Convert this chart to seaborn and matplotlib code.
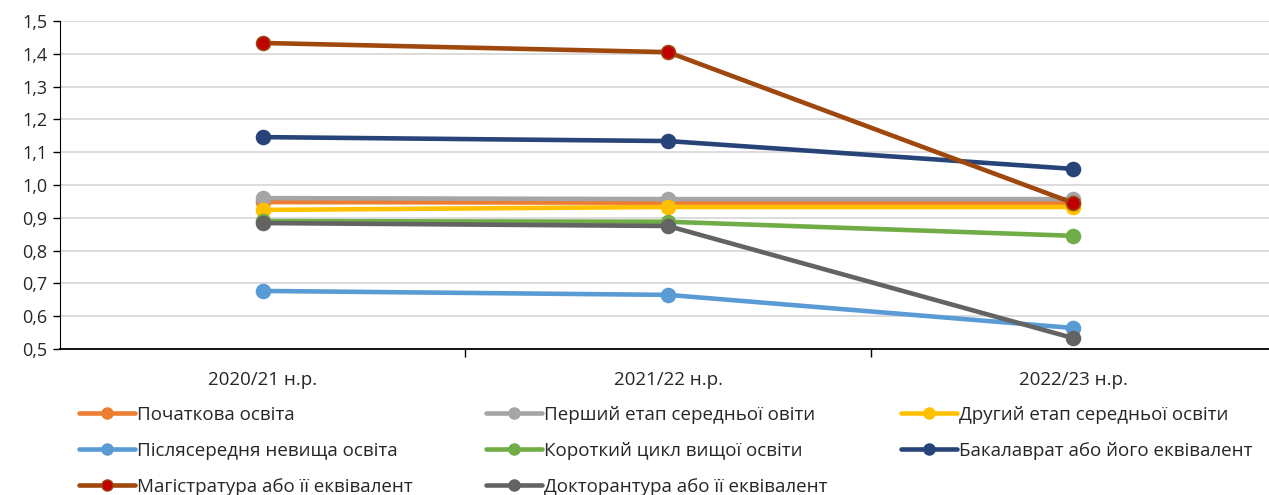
import matplotlib
matplotlib.use('Agg')
import matplotlib.pyplot as plt
import seaborn as sns
import pandas as pd
from matplotlib.ticker import FuncFormatter, FixedLocator
from matplotlib.lines import Line2D

# дані
roky = ['2020/21 н.р.', '2021/22 н.р.', '2022/23 н.р.']
seriyi = ['Початкова освіта', 'Перший етап середньої овіти', 'Другий етап середньої освіти',
          'Післясередня невища освіта', 'Короткий цикл вищої освіти', 'Бакалаврат або його еквівалент',
          'Магістратура або її еквівалент', 'Докторантура або її еквівалент']
pochatkova = [0.948, 0.946, 0.945]
pershyi = [0.960, 0.957, 0.957]
druhyi = [0.924, 0.933, 0.933]
pislyaseredna = [0.677, 0.665, 0.564]
korotkyi = [0.890, 0.888, 0.845]
bakalavr = [1.146, 1.134, 1.049]
mahistr = [1.433, 1.405, 0.945]
doktor = [0.884, 0.875, 0.533]
kolory = ['#ED7D31', '#A5A5A5', '#FFC000', '#5B9BD5', '#70AD47', '#264478', '#9E480E', '#636363']

znach = [pochatkova, pershyi, druhyi, pislyaseredna, korotkyi, bakalavr, mahistr, doktor]
df = pd.DataFrame({'rik': roky * len(seriyi),
                   'seriya': [s for s in seriyi for _ in roky],
                   'znach': [v for vals in znach for v in vals]})

sns.set_style('white')
plt.rcParams['font.family'] = ['Open Sans', 'DejaVu Sans']

fig = plt.figure(figsize=(12.69, 4.95), dpi=100)
ax = fig.add_axes([60 / 1269, 146 / 495, 1212 / 1269, 328 / 495])

handles = []
for s, c in zip(seriyi, kolory):
    d = df[df['seriya'] == s]
    face = '#C00000' if s.startswith('Магістратура') else c
    sns.lineplot(data=d, x='rik', y='znach', ax=ax, color=c, linewidth=3.3, marker='o',
                 markersize=10, markerfacecolor=face, markeredgecolor=c, markeredgewidth=1.2,
                 sort=False, legend=False)
    handles.append(Line2D([], [], color=c, linewidth=3.3, marker='o', markersize=8,
                          markerfacecolor=face, markeredgecolor=c))

ax.set_ylim(0.5, 1.5)
ax.set_xlim(-0.5, 2.49)
ax.set_yticks([0.5 + 0.1 * i for i in range(11)])
ax.yaxis.set_major_formatter(FuncFormatter(lambda v, p: f'{v:.1f}'.replace('.', ',')))
ax.yaxis.grid(True, color='#D9D9D9', linewidth=1.3)
ax.set_xlabel('')
ax.set_ylabel('')
ax.tick_params(axis='y', labelsize=13, length=5, width=1, color='black', direction='out', left=True, pad=4)
ax.tick_params(axis='x', labelsize=13.5, length=0, pad=16)
ax.xaxis.set_minor_locator(FixedLocator([0.5, 1.5]))
ax.tick_params(axis='x', which='minor', length=6, width=1, color='black', direction='out', bottom=True)
for sp in ['top', 'right']:
    ax.spines[sp].set_visible(False)
ax.spines['left'].set_color('black')
ax.spines['bottom'].set_color('black')
ax.spines['bottom'].set_linewidth(1.3)

# порядок легенди по рядках
poryadok = [0, 3, 6, 1, 4, 7, 2, 5]
fig.legend([handles[i] for i in poryadok], [seriyi[i] for i in poryadok],
           loc='upper left', bbox_to_anchor=(79 / 1269, 1 - 406 / 495), ncol=3, frameon=False,
           fontsize=13.5, handlelength=3.0, handletextpad=0.1, columnspacing=3.9, labelspacing=0.95,
           borderaxespad=0, borderpad=0)

fig.savefig('out.png', dpi=100)
